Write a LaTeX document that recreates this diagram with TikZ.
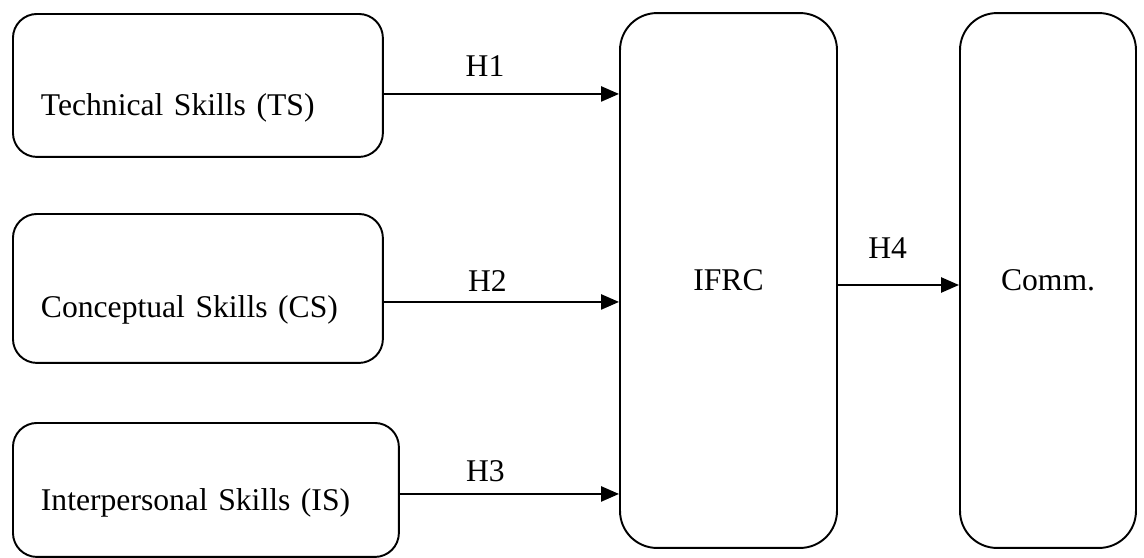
\documentclass[tikz,border=0pt]{standalone}
\usepackage{fontspec}
\setmainfont{Liberation Serif}
\usetikzlibrary{arrows.meta}
\usetikzlibrary{positioning}

\begin{document}
\begin{tikzpicture}[x=0.02cm,y=-0.02cm,font=\fontsize{18}{22}\selectfont]

  \useasboundingbox (0,0) rectangle (1144,558);

  % skill boxes, text sits low and to the left
  \node [draw,rectangle,rounded corners=0.48cm,line width=1.1pt,anchor=north west,inner xsep=0.56cm,inner ysep=0pt,text width=6.28cm,align=left,text height=2.04cm,text depth=0.82cm] (TS) at (12,13) {Technical Skills (TS)};
  \node [draw,rectangle,rounded corners=0.48cm,line width=1.1pt,anchor=north west,inner xsep=0.56cm,inner ysep=0pt,text width=6.28cm,align=left,text height=2.08cm,text depth=0.9cm] (CS) at (12,213) {Conceptual Skills (CS)};
  \node [draw,rectangle,rounded corners=0.48cm,line width=1.1pt,anchor=north west,inner xsep=0.56cm,inner ysep=0pt,text width=6.6cm,align=left,text height=1.76cm,text depth=0.92cm] (IS) at (12,422) {Interpersonal Skills (IS)};

  \node [draw,rectangle,rounded corners=0.74cm,line width=1.1pt,minimum width=4.34cm,minimum height=10.7cm] (IFRC) at (728.5,280.5) {IFRC};
  \node [draw,rectangle,rounded corners=0.74cm,line width=1.1pt,minimum width=3.52cm,minimum height=10.7cm] (Comm) at (1048,280.5) {Comm.};

  \coordinate (TSout)   at ([yshift=-0.17cm]TS.east);
  \coordinate (CSout)   at ([yshift=-0.27cm]CS.east);
  \coordinate (ISout)   at ([yshift=-0.08cm]IS.east);
  \coordinate (IFRCout) at ([yshift=-0.09cm]IFRC.east);

  \path [line width=1.4pt,-{Triangle[length=0.36cm,width=0.3cm]}]
    (TSout)   edge node [pos=0.43,above=0.32cm,inner sep=0pt] {H1} (TSout -| IFRC.west)
    (CSout)   edge node [pos=0.44,above=0.18cm,inner sep=0pt] {H2} (CSout -| IFRC.west)
    (ISout)   edge node [pos=0.39,above=0.22cm,inner sep=0pt] {H3} (ISout -| IFRC.west)
    (IFRCout) edge node [pos=0.41,above=0.5cm,inner sep=0pt]  {H4} (IFRCout -| Comm.west);

\end{tikzpicture}
\end{document}
